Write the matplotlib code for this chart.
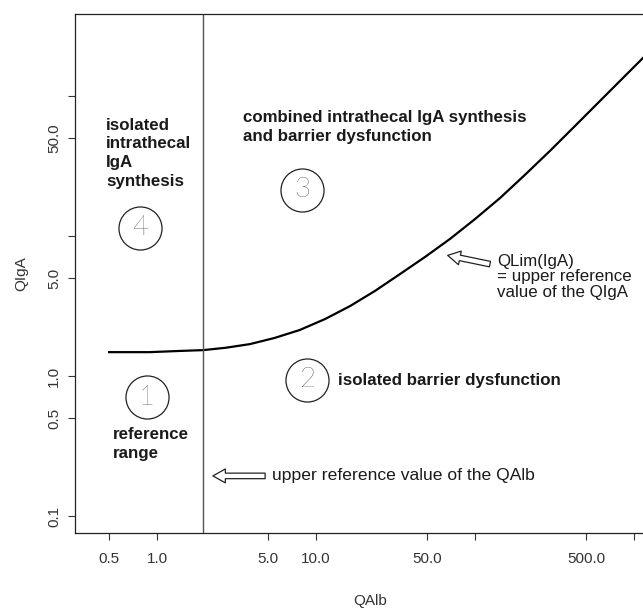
import matplotlib
matplotlib.use('Agg')
import matplotlib.pyplot as plt

# upper limit curve QLim(IgA)
qalb = [0.5, 0.9, 1.4, 1.95, 2.7, 3.85, 5.5, 7.9, 11.4, 16.4, 23.5, 33.8, 48.5, 69.6,
        100, 144, 206, 296, 426, 611, 878, 1262]
qiga = [1.48, 1.48, 1.51, 1.53, 1.59, 1.69, 1.87, 2.13, 2.55, 3.16, 4.05, 5.35, 7.08, 9.52,
        13.2, 18.7, 27.3, 40.5, 61.1, 92.1, 139, 210]
qalb_limit = 1.95

x_ticks = [0.5, 1, 5, 10, 50, 100, 500, 1000]
x_labels = ['0.5', '1.0', '5.0', '10.0', '50.0', '', '500.0', '']
y_ticks = [0.1, 0.5, 1, 5, 10, 50, 100]
y_labels = ['0.1', '0.5', '1.0', '5.0', '', '50.0', '']

region_nums = ['1', '2', '3', '4']
region_pos = [(0.122, 0.262), (0.393, 0.295), (0.385, 0.661), (0.110, 0.588)]

plt.rcParams['font.family'] = ['Liberation Sans', 'DejaVu Sans']

fig = plt.figure(figsize=(6.43, 6.09), dpi=100)
ax = fig.add_axes([0.1166, 0.1248, 0.9176, 0.8522])
ax.set_xscale('log')
ax.set_yscale('log')
ax.set_xlim(0.305, 1567)
ax.set_ylim(0.0756, 385)

ax.plot(qalb, qiga, color='black', lw=1.6)
ax.axvline(qalb_limit, color='#555555', lw=1.0)

ax.set_xticks(x_ticks)
ax.set_xticklabels(x_labels)
ax.set_yticks(y_ticks)
ax.set_yticklabels(y_labels, rotation=90, va='center')
ax.minorticks_off()
ax.tick_params(axis='both', direction='out', length=5, width=0.8, color='#333333',
               labelsize=11, labelcolor='#333333')
ax.tick_params(axis='x', pad=9)
ax.tick_params(axis='y', pad=5)
for s in ax.spines.values():
    s.set_linewidth(0.9)
    s.set_color('#222222')

ax.set_xlabel('QAlb', fontsize=11, color='#333333')
ax.set_ylabel('QIgA', fontsize=11, color='#333333')
ax.xaxis.set_label_coords(0.5, -0.118)
ax.yaxis.set_label_coords(-0.08, 0.5)

tc = '#1a1a1a'
ax.text(0.0525, 0.80, 'isolated\nintrathecal\nIgA\nsynthesis', transform=ax.transAxes,
        ha='left', va='top', fontsize=12.2, fontweight='bold', color=tc, linespacing=1.3)
ax.text(0.285, 0.815, 'combined intrathecal IgA synthesis\nand barrier dysfunction',
        transform=ax.transAxes, ha='left', va='top', fontsize=12.2, fontweight='bold',
        color=tc, linespacing=1.3)
ax.text(0.446, 0.293, 'isolated barrier dysfunction', transform=ax.transAxes,
        ha='left', va='center', fontsize=12.2, fontweight='bold', color=tc)
ax.text(0.0644, 0.204, 'reference\nrange', transform=ax.transAxes, ha='left', va='top',
        fontsize=12.2, fontweight='bold', color=tc, linespacing=1.3)

for num, (px, py) in zip(region_nums, region_pos):
    ax.plot([px], [py], marker='o', ms=31, mfc='none', mec='#222222', mew=0.9,
            transform=ax.transAxes, clip_on=False)
    ax.text(px, py, num, transform=ax.transAxes, ha='center', va='center',
            fontsize=20, family=['Lato', 'DejaVu Sans'], fontweight='light', color='black')

arrow = dict(arrowstyle='simple,head_length=0.9,head_width=1.0,tail_width=0.4',
             fc='white', ec='#222222', lw=0.9, mutation_scale=10)
ax.annotate('', xy=(0.229, 0.110), xytext=(0.327, 0.110), xycoords='axes fraction',
            textcoords='axes fraction', arrowprops=arrow)
ax.text(0.334, 0.110, 'upper reference value of the QAlb', transform=ax.transAxes,
        ha='left', va='center', fontsize=12.6, color=tc)

ax.annotate('', xy=(0.627, 0.536), xytext=(0.708, 0.517), xycoords='axes fraction',
            textcoords='axes fraction', arrowprops=arrow)
ax.text(0.715, 0.538, 'QLim(IgA)\n= upper reference\nvalue of the QIgA', transform=ax.transAxes,
        ha='left', va='top', fontsize=12.2, color=tc, linespacing=1.05)

fig.savefig('out.png', dpi=100)
